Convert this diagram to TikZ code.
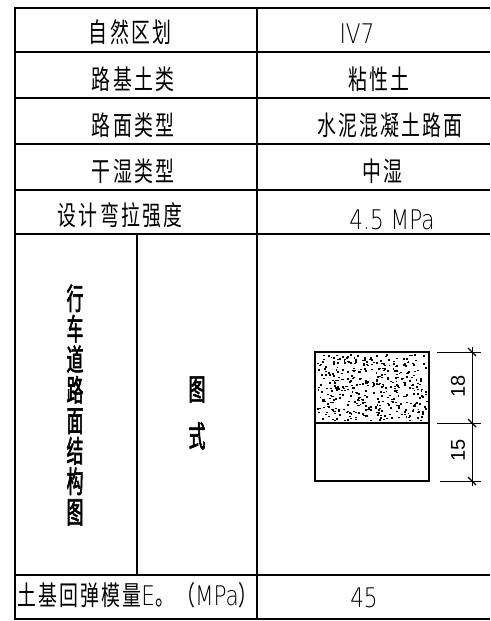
\documentclass[tikz,border=0pt]{standalone}
\usepackage{fontspec}
\setmainfont{Liberation Sans}
\newfontfamily\cjk[FakeStretch=0.7,LetterSpace=8]{Noto Sans CJK SC}
\newfontfamily\cjktall[FakeStretch=0.56,FakeBold=2]{Noto Sans CJK SC}
\newfontfamily\cad[FakeStretch=0.8]{DejaVu Sans ExtraLight}

\begin{document}
\begin{tikzpicture}[x=1pt,y=-1pt,
    grid/.style={line width=1.8pt},
    layer/.style={line width=1.4pt},
    dim/.style={line width=0.8pt},
    cell/.style={inner sep=0pt,font=\cjk\fontsize{27}{27}\selectfont},
    value/.style={inner sep=0pt,font=\cad\fontsize{27}{27}\selectfont},
    dimtext/.style={inner sep=0pt,rotate=90,font=\fontsize{20}{20}\selectfont}]
    \useasboundingbox (0,0) rectangle (490,621);
    % table lines
    \draw[grid] (490,8) -- (15,8) -- (15,619) -- (490,619);
    \foreach \y in {52,98,144,190,234,575}
      \draw[grid] (15,\y) -- (490,\y);
    \draw[grid] (257,8) -- (257,619);
    \draw[grid] (137,234) -- (137,575);
    % left column
    \node[cell] (zone)     at (130,32)  {自然区划};
    \node[cell] (soil)     at (133,79)  {路基土类};
    \node[cell] (pavement) at (133,125) {路面类型};
    \node[cell] (moisture) at (133,171) {干湿类型};
    \node[cell] (strength) at (120,215) {设计弯拉强度};
    \node[inner sep=0pt,align=center,font=\cjktall\fontsize{30}{30.5}\selectfont]
      (structure) at (75,405) {行\\车\\道\\路\\面\\结\\构\\图};
    \node[inner sep=0pt,align=center,font=\cjktall\fontsize{30}{47}\selectfont]
      (figure) at (197,413) {图\\式};
    \node[cell,anchor=west] (modulus) at (17,595)
      {土基回弹模量{\cad E}。（{\cad MPa}）};
    % right column
    \node[value] (zone val)     at (357,34)  {IV7};
    \node[cell]  (soil val)     at (379,79)  {粘性土};
    \node[cell]  (pavement val) at (390,125) {水泥混凝土路面};
    \node[cell]  (moisture val) at (382,171) {中湿};
    \node[value] (strength val) at (392,220) {4.5 MPa};
    \node[value] (modulus val)  at (364,598) {45};
    % pavement layers
    \draw[layer] (315,352) rectangle (429,481);
    \draw[layer] (315,423) -- (429,423);
    \pgfmathsetseed{7}
    \foreach \i in {1,...,420}
      \fill ({317+109*rnd},{354+66*rnd}) rectangle ++(1.9,1.5);
    % dimensions
    \draw[dim] (437,352) -- (481,352);
    \draw[dim] (437,423) -- (481,423);
    \draw[dim] (440,481) -- (481,481);
    \draw[dim] (472,347) -- (472,486);
    \foreach \y in {352,423,481}
      \draw[line width=1.1pt] (468,\y-4) -- (476,\y+4);
    \node[dimtext] (top thick)    at (458,386) {18};
    \node[dimtext] (bottom thick) at (458,450) {15};
\end{tikzpicture}
\end{document}
